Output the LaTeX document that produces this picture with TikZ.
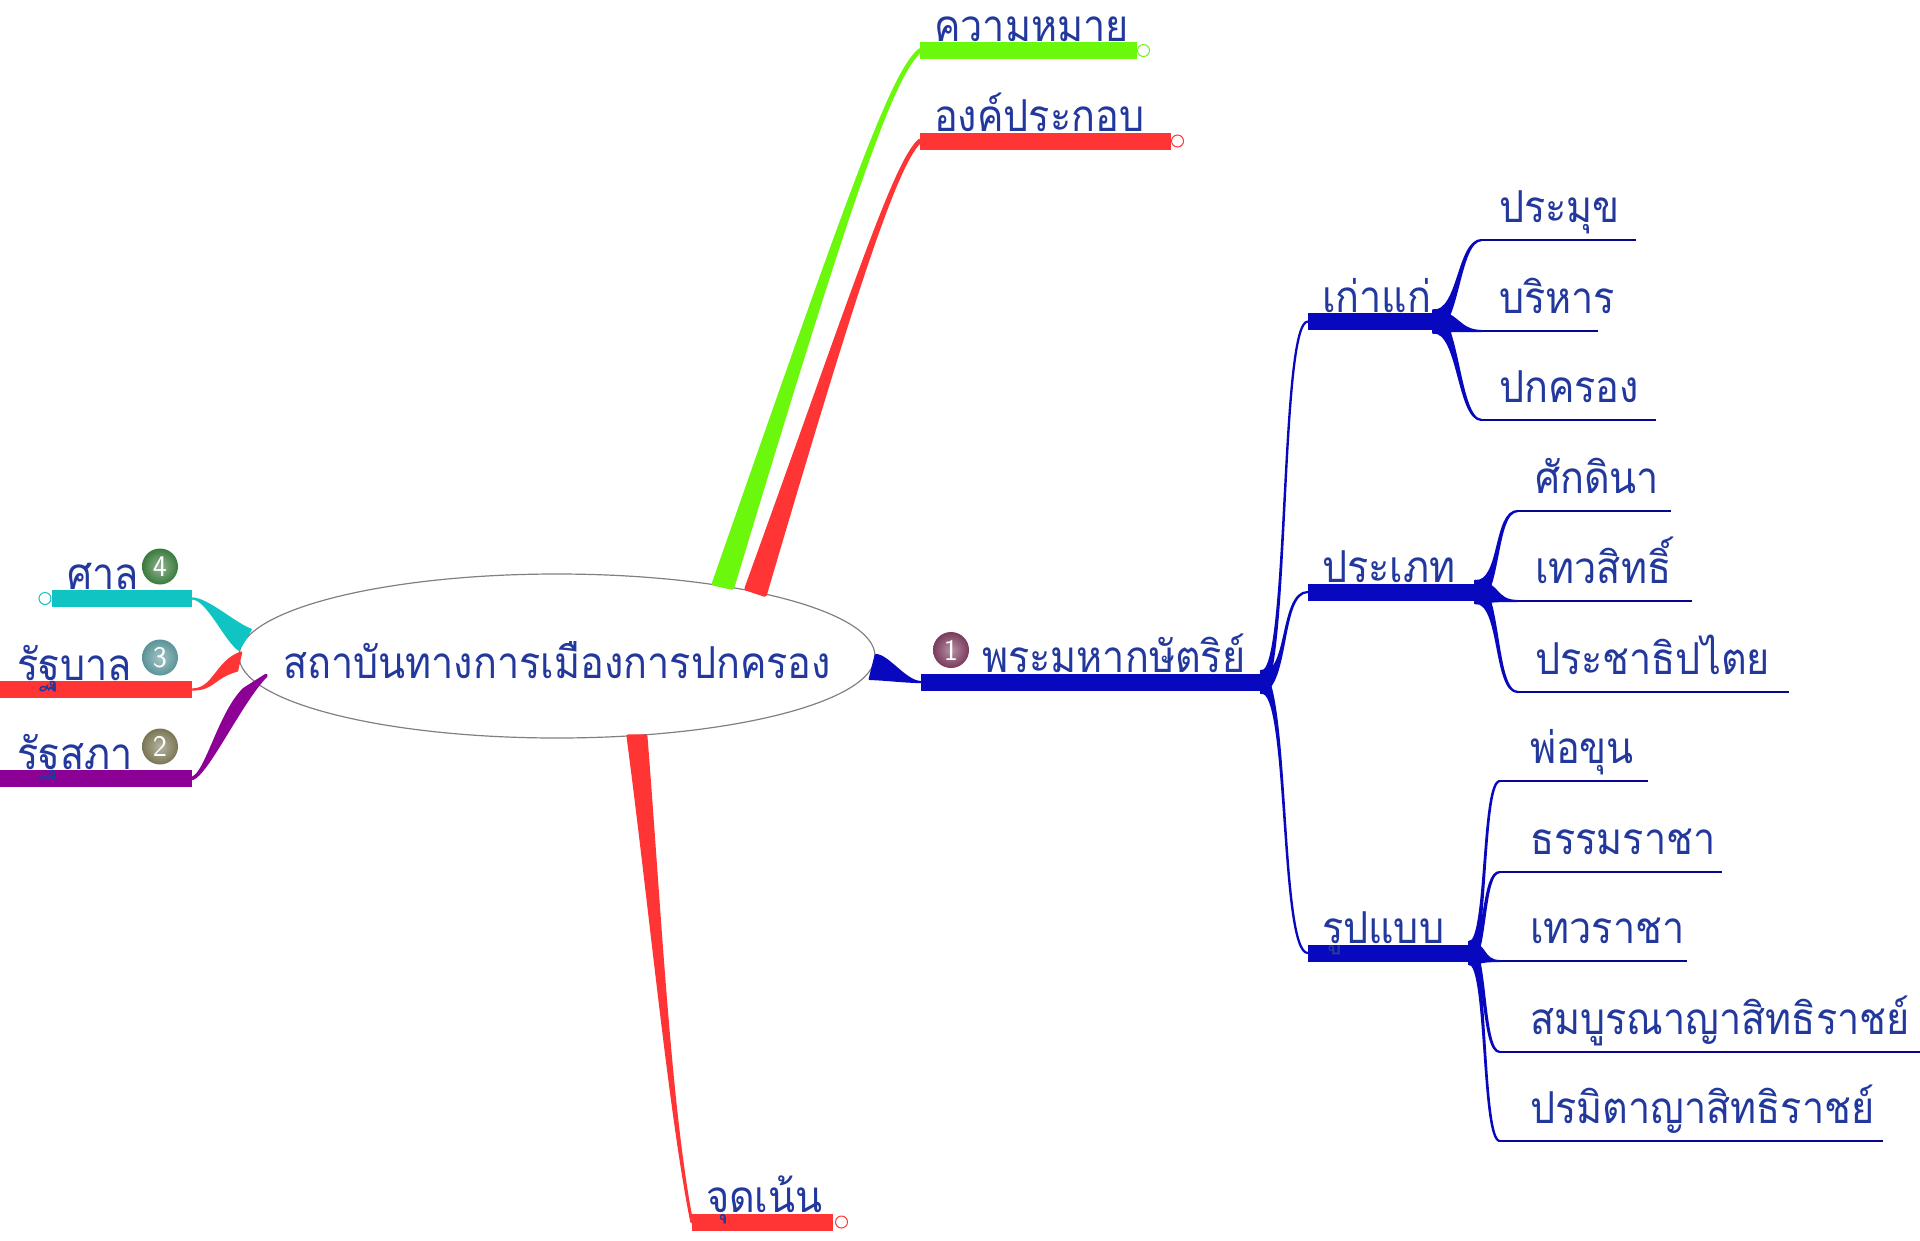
\documentclass[tikz,border=0pt]{standalone}
\usepackage{fontspec}
\newfontfamily\thaifont[Script=Thai,FakeStretch=0.9]{Loma}
\usetikzlibrary{calc,shapes.geometric}
\definecolor{inkblue}{HTML}{22389C}
\definecolor{kingblue}{HTML}{0808BE}
\definecolor{limebar}{HTML}{6CF80C}
\definecolor{redbar}{HTML}{FF3434}
\definecolor{tealbar}{HTML}{10C4C4}
\definecolor{violetbar}{HTML}{8C0096}
\definecolor{ballone}{HTML}{7A3A5C}
\definecolor{balltwo}{HTML}{7A7654}
\definecolor{ballthree}{HTML}{5A9498}
\definecolor{ballfour}{HTML}{3A7A3C}
% tapered link: [spread], style, thick end, half base, thin end, control at base, control at tip
\newcommand{\wedgelink}[7][0]{\draw[fill,line width=2.2pt,line join=round,#2]
	($(#3)+(#4)$) .. controls ($(#3)+(#6)+#1*(#4)$) and ($(#5)+(#7)$) .. (#5)
	.. controls ($(#5)+(#7)$) and ($(#3)+(#6)-#1*(#4)$) .. ($(#3)-(#4)$) -- cycle;}
\begin{document}
\begin{tikzpicture}[
		x=1pt, y=1pt, node distance=0pt,
		hubvertex/.style={ellipse,draw=black!50,line width=1.2pt,inner sep=0pt,minimum width=636pt,minimum height=164pt},
		thickbar/.style={rectangle,fill=#1,inner sep=0pt,minimum height=17pt},
		leafline/.style={rectangle,fill=kingblue!75!black,inner sep=0pt,minimum height=2.6pt},
		lab/.style={inner sep=0pt,anchor=base west,text=inkblue,font=\thaifont\fontsize{44}{44}\selectfont},
		barlab/.style={lab,xshift=14pt,yshift=0.5pt},
		leaflab/.style={lab,xshift=17pt,yshift=16pt},
		endring/.style={circle,draw=#1,fill=white,line width=1pt,inner sep=0pt,minimum size=12pt},
		numball/.style={circle,shading=radial,inner color=#1!55!white,outer color=#1,text=white,inner sep=0pt,minimum size=36pt,font=\fontsize{30}{30}\selectfont\sffamily}
		]
		\useasboundingbox (0,0) rectangle (1920,-1240);
		\node[hubvertex] (Hub) at (557,-656) {};
		\node[lab, anchor=center, right of = Hub, yshift=-4pt] (Thub) {สถาบันทางการเมืองการปกครอง};

		\node[thickbar=kingblue, minimum width=340pt, right of = Hub, xshift=534pt, yshift=-26pt] (Bking) {};
		\node[thickbar=limebar, minimum width=217pt, right of = Hub, xshift=471.5pt, yshift=605.5pt] (Bmean) {};
		\node[thickbar=redbar, minimum width=251pt, right of = Hub, xshift=488.5pt, yshift=515pt] (Bpart) {};
		\node[thickbar=redbar, minimum width=141pt, right of = Hub, xshift=205.5pt, yshift=-566pt] (Bfocus) {};
		\node[thickbar=tealbar, minimum width=140pt, right of = Hub, xshift=-435pt, yshift=57.5pt] (Bcourt) {};
		\node[thickbar=redbar, minimum width=202pt, right of = Hub, xshift=-466pt, yshift=-33.5pt] (Bgov) {};
		\node[thickbar=violetbar, minimum width=202pt, right of = Hub, xshift=-466pt, yshift=-122.5pt] (Bparl) {};

		\node[endring=limebar, right of = Bmean, xshift=115pt] (Emean) {};
		\node[endring=redbar, right of = Bpart, xshift=132pt] (Epart) {};
		\node[endring=redbar, right of = Bfocus, xshift=79pt] (Efocus) {};
		\node[endring=tealbar, right of = Bcourt, xshift=-77pt] (Ecourt) {};

		\node[thickbar=kingblue, minimum width=125pt, right of = Bking, xshift=279.5pt, yshift=360.5pt] (Bold) {};
		\node[thickbar=kingblue, minimum width=167pt, right of = Bking, xshift=300.5pt, yshift=90pt] (Btype) {};
		\node[thickbar=kingblue, minimum width=161pt, right of = Bking, xshift=297.5pt, yshift=-271pt] (Bform) {};

		\node[leafline, minimum width=154pt, right of = Bold, xshift=188.5pt, yshift=81.5pt] (La) {};
		\node[leafline, minimum width=116pt, right of = Bold, xshift=169.5pt, yshift=-9.5pt] (Lb) {};
		\node[leafline, minimum width=174pt, right of = Bold, xshift=198.5pt, yshift=-98.5pt] (Lc) {};
		\node[leafline, minimum width=153pt, right of = Btype, xshift=203pt, yshift=81pt] (Ld) {};
		\node[leafline, minimum width=174pt, right of = Btype, xshift=213.5pt, yshift=-9pt] (Le) {};
		\node[leafline, minimum width=271pt, right of = Btype, xshift=262pt, yshift=-100pt] (Lf) {};
		\node[leafline, minimum width=148pt, right of = Bform, xshift=185.5pt, yshift=172pt] (Lg) {};
		\node[leafline, minimum width=222pt, right of = Bform, xshift=222.5pt, yshift=81pt] (Lh) {};
		\node[leafline, minimum width=187pt, right of = Bform, xshift=205pt, yshift=-8pt] (Li) {};
		\node[leafline, minimum width=420pt, right of = Bform, xshift=321.5pt, yshift=-99pt] (Lj) {};
		\node[leafline, minimum width=383pt, right of = Bform, xshift=303pt, yshift=-188pt] (Lk) {};

		% links out of the ellipse
		\wedgelink{limebar,line width=4.5pt}{Hub.23}{9,-2}{Bmean.west}{130,400}{-28,-25}
		\wedgelink{redbar,line width=4.5pt}{Hub.18}{9,-3}{Bpart.west}{95,290}{-25,-22}
		\wedgelink[0.5]{redbar,line width=3pt}{Hub.315}{9,0}{Bfocus.west}{18,-170}{-22,110}
		\wedgelink[0.8]{tealbar}{Hub.177}{6,10}{Bcourt.east}{-15,8}{15,0}
		\wedgelink[0.9]{redbar}{Hub.181.5}{2,9}{Bgov.east}{-25,-8}{22,0}
		\wedgelink[1]{violetbar,line width=3.5pt}{Hub.185}{11,7}{Bparl.east}{-25,-25}{15,5}
		\wedgelink[1]{kingblue}{Hub.358}{3,12}{Bking.west}{12,0}{-15,0}

		% second level
		\wedgelink[0.3]{kingblue}{Bking.east}{0,11}{Bold.west}{28,0}{-28,0}
		\wedgelink[0.3]{kingblue}{Bking.east}{0,11}{Btype.west}{28,0}{-28,0}
		\wedgelink[0.3]{kingblue}{Bking.east}{0,11}{Bform.west}{28,0}{-28,0}

		% leaves
		\foreach \leaf in {La,Lb,Lc} {\wedgelink[0.8]{kingblue}{Bold.east}{0,11}{\leaf.west}{26,0}{-24,0}}
		\foreach \leaf in {Ld,Le,Lf} {\wedgelink[0.8]{kingblue}{Btype.east}{0,11}{\leaf.west}{26,0}{-24,0}}
		\foreach \leaf in {Lg,Lh,Li,Lj,Lk} {\wedgelink[0.8]{kingblue}{Bform.east}{0,11}{\leaf.west}{18,0}{-18,0}}

		\node[barlab] (Tmean) at (Bmean.north west) {ความหมาย};
		\node[barlab] (Tpart) at (Bpart.north west) {องค์ประกอบ};
		\node[barlab] (Tfocus) at (Bfocus.north west) {จุดเน้น};
		\node[barlab, xshift=47pt] (Tking) at (Bking.north west) {พระมหากษัตริย์};
		\node[barlab, xshift=1pt] (Tcourt) at (Bcourt.north west) {ศาล};
		\node[barlab, xshift=13pt] (Tgov) at (Bgov.north west) {รัฐบาล};
		\node[barlab, xshift=13pt] (Tparl) at (Bparl.north west) {รัฐสภา};
		\node[barlab] (Told) at (Bold.north west) {เก่าแก่};
		\node[barlab] (Ttype) at (Btype.north west) {ประเภท};
		\node[barlab] (Tform) at (Bform.north west) {รูปแบบ};

		\node[leaflab] (Ta) at (La.north west) {ประมุข};
		\node[leaflab] (Tb) at (Lb.north west) {บริหาร};
		\node[leaflab] (Tc) at (Lc.north west) {ปกครอง};
		\node[leaflab] (Td) at (Ld.north west) {ศักดินา};
		\node[leaflab] (Te) at (Le.north west) {เทวสิทธิ์};
		\node[leaflab] (Tf) at (Lf.north west) {ประชาธิปไตย};
		\node[leaflab, xshift=13pt] (Tg) at (Lg.north west) {พ่อขุน};
		\node[leaflab, xshift=13pt] (Th) at (Lh.north west) {ธรรมราชา};
		\node[leaflab, xshift=13pt] (Ti) at (Li.north west) {เทวราชา};
		\node[leaflab, xshift=13pt] (Tj) at (Lj.north west) {สมบูรณาญาสิทธิราชย์};
		\node[leaflab, xshift=13pt] (Tk) at (Lk.north west) {ปรมิตาญาสิทธิราชย์};

		\node[numball=ballone, right of = Bking, xshift=-140pt, yshift=32pt] (N1) {1};
		\node[numball=balltwo, right of = Bparl, xshift=69pt, yshift=32pt] (N2) {2};
		\node[numball=ballthree, right of = Bgov, xshift=69pt, yshift=32pt] (N3) {3};
		\node[numball=ballfour, right of = Bcourt, xshift=38pt, yshift=32pt] (N4) {4};
	\end{tikzpicture}
\end{document}
